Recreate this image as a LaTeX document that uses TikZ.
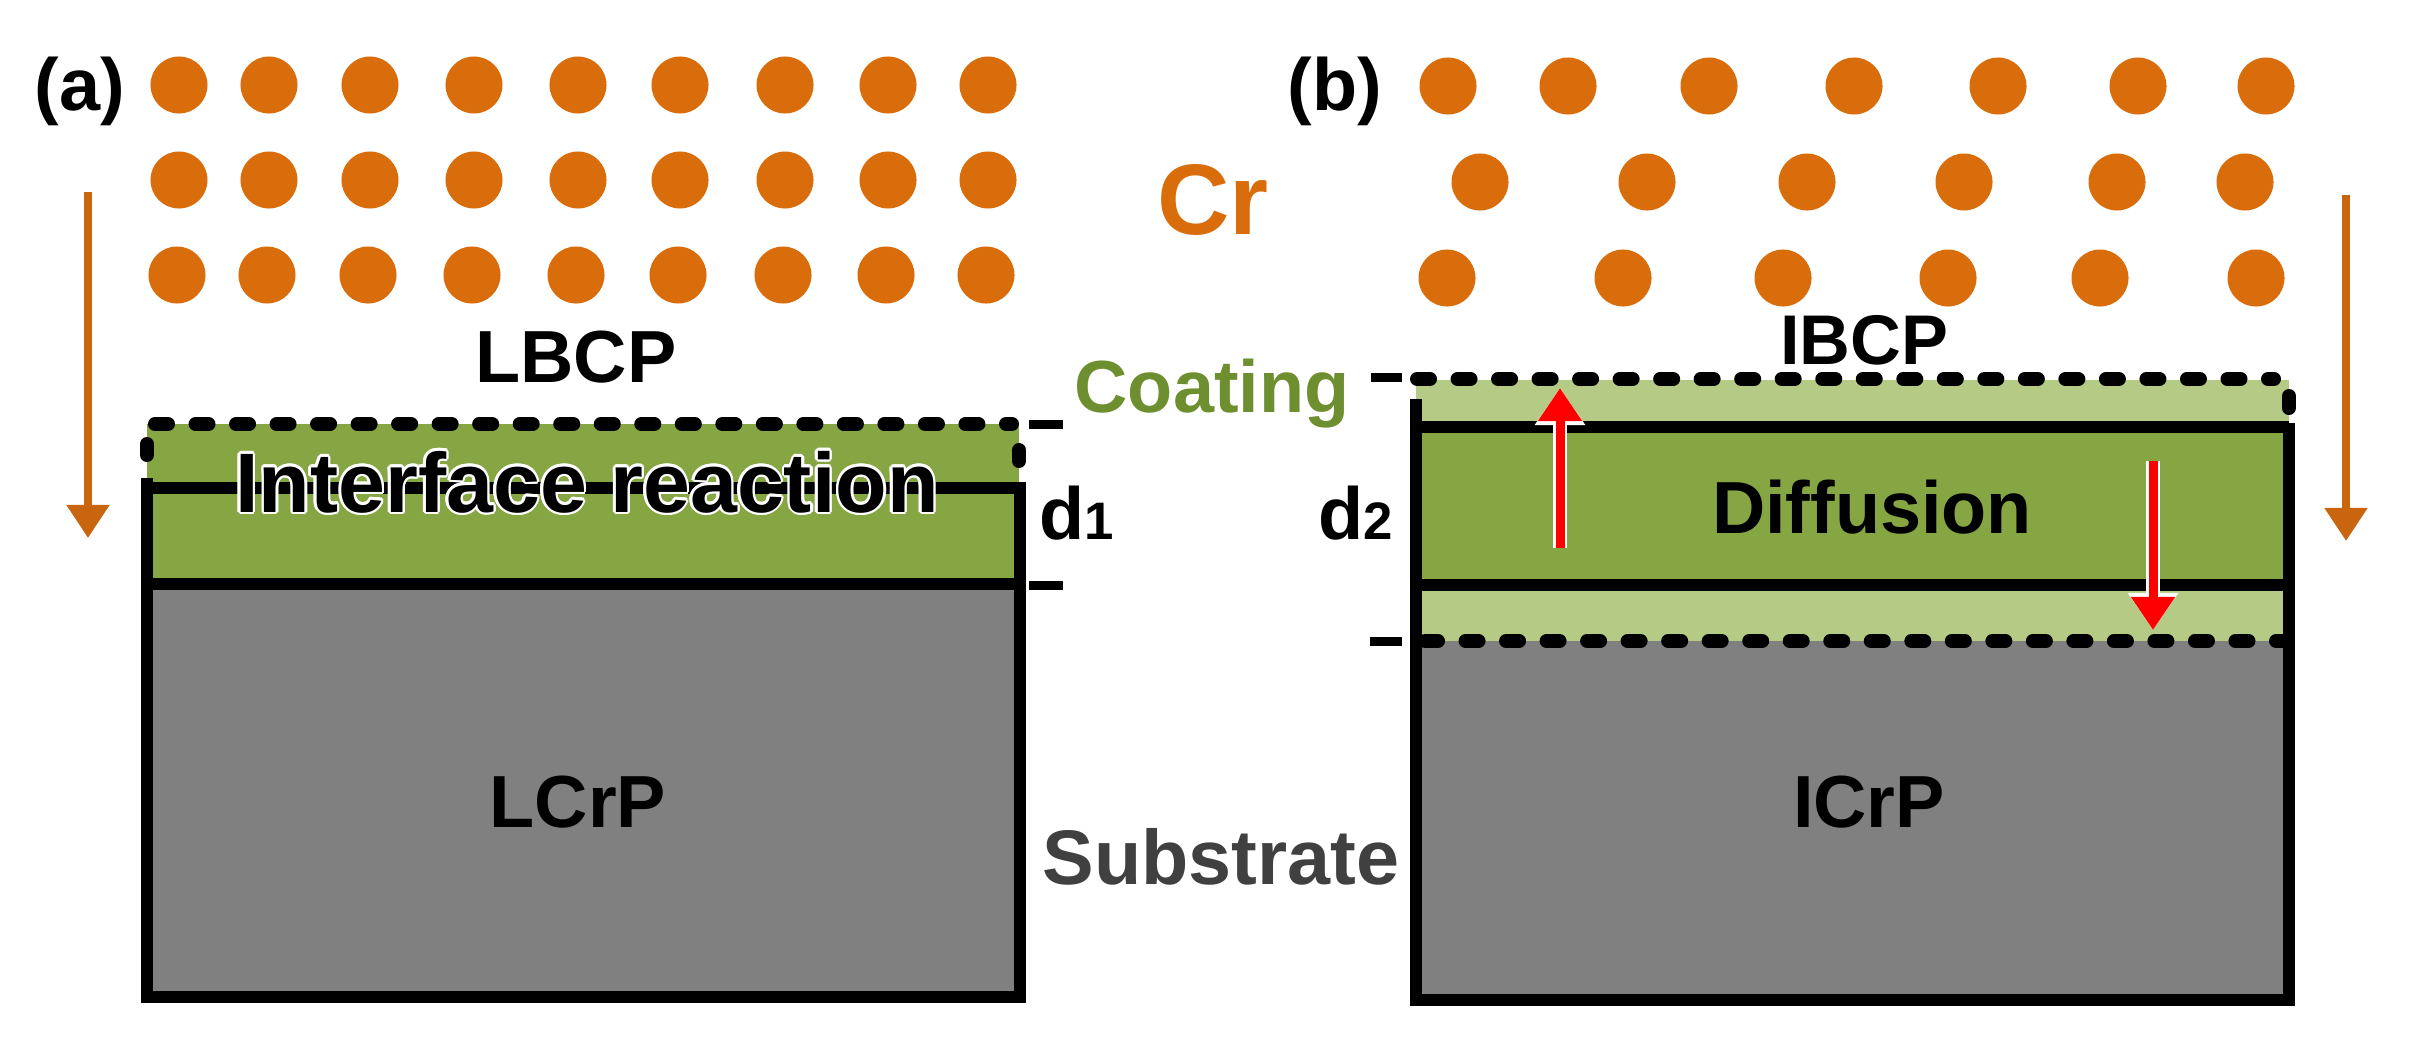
\documentclass[tikz,border=0pt]{standalone}
\usepackage{fontspec}
\setmainfont{Liberation Sans}
\usepackage[copies]{contour}
\usetikzlibrary{arrows.meta,positioning}
\definecolor{crorange}{HTML}{D96C0B}
\definecolor{arrorange}{HTML}{C9640F}
\definecolor{coatgreen}{HTML}{86A644}
\definecolor{lightgreen}{HTML}{B5CB85}
\definecolor{labelgreen}{HTML}{6E8F2F}
\definecolor{subgray}{HTML}{808080}
\definecolor{subtext}{HTML}{404040}
\contourlength{0.7pt}
\begin{document}
\begin{tikzpicture}[x=0.01cm, y=-0.01cm,
	atom/.style={circle, fill=crorange, minimum size=0.57cm, inner sep=0pt},
	lab/.style={anchor=base, inner sep=0pt, font=\fontsize{21}{21}\selectfont\bfseries},
	bigline/.style={line width=0.12cm},
	dotline/.style={line width=0.14cm, line cap=round, dash pattern=on 0.13cm off 0.275cm},
	stub/.style={line width=0.14cm, line cap=round},
	tick/.style={line width=0.09cm},
	cralong/.style={arrorange, line width=0.08cm, -{Triangle[length=0.33cm,width=0.41cm]}},
	difarrow/.style={red, line width=0.09cm, -{Triangle[length=0.33cm,width=0.42cm]},
		preaction={draw=white, line width=0.14cm, -{Triangle[length=0.37cm,width=0.48cm]}}}]
	\useasboundingbox (0,0) rectangle (2409,1048);

	% atoms of panel a
	\foreach \x [count=\i] in {179,269,370,474,578,680,785,888,988} {
		\node[atom] (la\i) at (\x,85) {};
		\node[atom] (lb\i) at (\x,180) {};
		\node[atom] (lc\i) at (\x-2,275) {};
	}
	% atoms of panel b
	\foreach \x [count=\i] in {1448,1568,1709,1854,1998,2138,2266}
		\node[atom] (ra\i) at (\x,86) {};
	\foreach \x [count=\i] in {1480,1647,1807,1964,2117,2245}
		\node[atom] (rb\i) at (\x,182) {};
	\foreach \x [count=\i] in {1447,1623,1783,1948,2100,2256}
		\node[atom] (rc\i) at (\x,278) {};

	% layers
	\fill[coatgreen] (147,424) rectangle (1019,584);
	\fill[subgray] (147,584) rectangle (1020,997);
	\fill[lightgreen] (1416,380) rectangle (2289,427);
	\fill[coatgreen] (1416,427) rectangle (2289,585);
	\fill[lightgreen] (1416,585) rectangle (2289,641);
	\fill[subgray] (1416,641) rectangle (2289,1000);

	% panel a outlines
	\draw[bigline] (147,478) -- (147,997) -- (1020,997) -- (1020,482);
	\draw[bigline] (147,488) -- (1020,488);
	\draw[bigline] (147,584) -- (1020,584);
	\draw[dotline] (155,424) -- (1012,424);
	\draw[stub] (147,444) -- (147,455);
	\draw[stub] (1019,450) -- (1019,461);
	\draw[tick] (1029,424) -- (1063,424);
	\draw[tick] (1029,585) -- (1063,585);

	% panel b outlines
	\draw[bigline] (1416,399) -- (1416,1000) -- (2289,1000) -- (2289,423);
	\draw[bigline] (1416,427) -- (2289,427);
	\draw[bigline] (1416,585) -- (2289,585);
	\draw[dotline] (1417,379) -- (2274,379);
	\draw[dotline] (1425,641) -- (2285,641);
	\draw[stub] (2289,396) -- (2289,408);
	\draw[tick] (1371,377) -- (1402,377);
	\draw[tick] (1370,641) -- (1402,641);

	% arrows
	\coordinate (lfrom) at (88,192);
	\coordinate (lto) at (88,538);
	\coordinate (rfrom) at (2346,195);
	\coordinate (rto) at (2346,541);
	\coordinate (upfrom) at (1560,548);
	\coordinate (upto) at (1560,388);
	\coordinate (downfrom) at (2153,461);
	\coordinate (downto) at (2153,630);
	\draw[cralong] (lfrom) -- (lto);
	\draw[cralong] (rfrom) -- (rto);
	\draw[difarrow] (upfrom) -- (upto);
	\draw[difarrow] (downfrom) -- (downto);

	% labels
	\node[lab] (tagA) at (80,110) {(a)};
	\node[lab] (tagB) at (1335,110) {(b)};
	\node[lab, crorange, font=\fontsize{28.5}{28.5}\selectfont\bfseries] (cr) at (1213,234) {Cr};
	\node[lab] (lbcp) at (576,382) {LBCP};
	\node[lab, font=\fontsize{20}{20}\selectfont\bfseries] (ibcp) at (1864,364) {IBCP};
	\node[lab, labelgreen] (coating) at (1212,412) {Coating};
	\node[lab, font=\fontsize{24}{24}\selectfont\bfseries] (iface) at (587,512) {\contour{white}{Interface reaction}};
	\node[lab] (dA) at (1077,539) {d{\fontsize{15}{15}\selectfont 1}};
	\node[lab] (dB) at (1356,539) {d{\fontsize{15}{15}\selectfont 2}};
	\node[lab] (diff) at (1872,533) {Diffusion};
	\node[lab] (lcrp) at (578,827) {LCrP};
	\node[lab] (icrp) at (1869,827) {ICrP};
	\node[lab, subtext, font=\fontsize{22}{22}\selectfont\bfseries] (subst) at (1221,884) {Substrate};
\end{tikzpicture}
\end{document}
